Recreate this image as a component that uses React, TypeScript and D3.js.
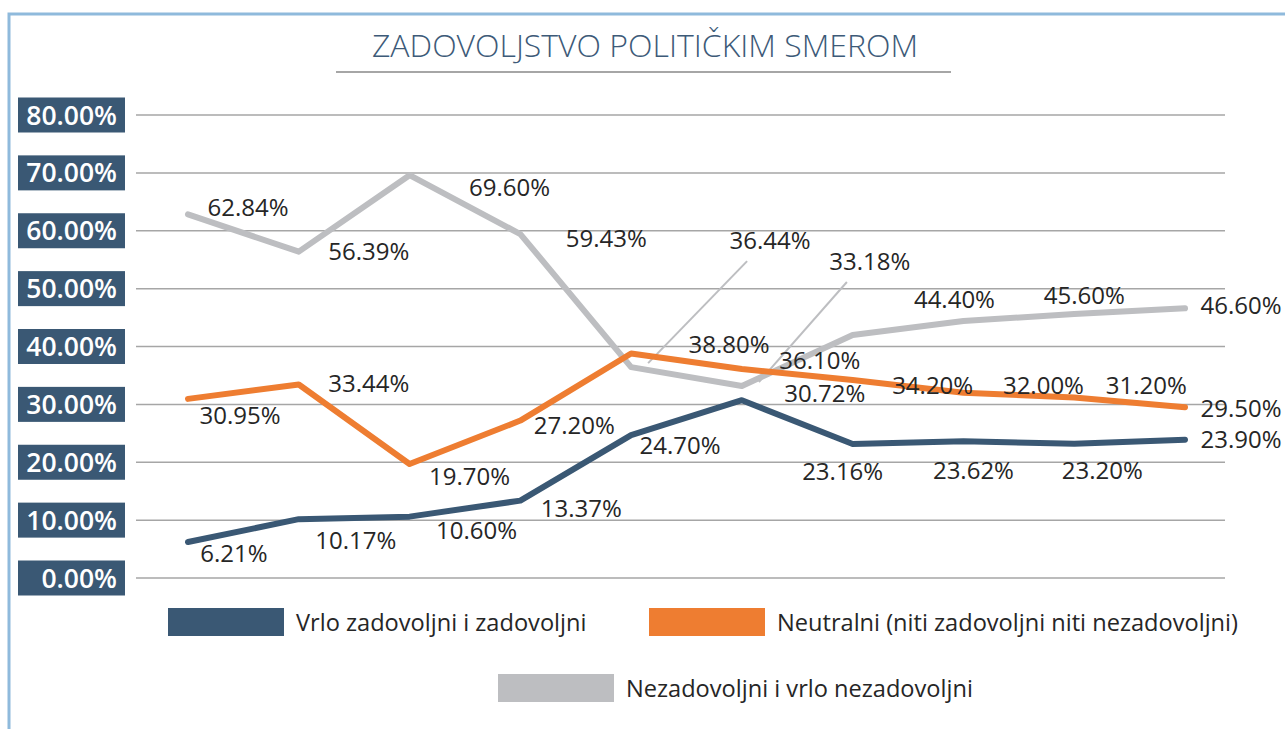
import { useEffect, useRef } from "react";
import * as d3 from "d3";

const waves = ["W1", "W2", "W3", "W4", "W5", "W6", "W7", "W8", "W9", "W10"];
const yTicks = [0, 10, 20, 30, 40, 50, 60, 70, 80];

const satisfied = [6.21, 10.17, 10.6, 13.37, 24.7, 30.72, 23.16, 23.62, 23.2, 23.9];
const neutral = [30.95, 33.44, 19.7, 27.2, 38.8, 36.1, 34.2, 32.0, 31.2, 29.5];
const dissatisfied = [62.84, 56.39, 69.6, 59.43, 36.44, 33.18, 42.0, 44.4, 45.6, 46.6];
// the 7th point of this series carries no label in the original
const dissatisfiedShown = [true, true, true, true, true, true, false, true, true, true];

const seriesNames = [
  "Vrlo zadovoljni i zadovoljni",
  "Neutralni (niti zadovoljni niti nezadovoljni)",
  "Nezadovoljni i vrlo nezadovoljni",
];

// label offsets from their point (layout only)
const satisfiedOff = [[46, 11], [57, 21], [67, 14], [61, 8], [49, 10], [83, -7], [-10, 27], [10, 29], [28, 27], [56, 0]];
const neutralOff = [[52, 16], [70, -1], [60, 12], [54, 5], [98, -9], [78, -9], [80, 5], [80, -7], [72, -12], [56, 1]];
const dissatisfiedOff = [[60, -7], [70, 0], [100, 12], [86, 4], [139, -127], [128, -125], [0, 0], [-9, -22], [10, -19], [56, -3]];

const W = 1285;
const H = 729;

export default function App() {
  const svgRef = useRef<SVGSVGElement>(null);

  useEffect(() => {
    if (!svgRef.current) return;
    const svg = d3.select(svgRef.current);
    svg.selectAll("*").remove();

    const font = "'Open Sans', 'DejaVu Sans', sans-serif";
    const x = d3.scalePoint<string>().domain(waves).range([188, 1185]);
    const y = d3.scaleLinear().domain([0, 80]).range([578, 115]);
    const gridX0 = 136;
    const gridX1 = 1225;

    // frame
    svg.append("path")
      .attr("d", `M9,${H} L9,14 L${W},14`)
      .attr("fill", "none")
      .attr("stroke", "#8fbadc")
      .attr("stroke-width", 3);

    // title
    svg.append("text")
      .attr("x", 645)
      .attr("y", 57)
      .attr("text-anchor", "middle")
      .attr("font-family", font)
      .attr("font-weight", 300)
      .attr("font-size", 32)
      .attr("fill", "#3d5a78")
      .text("ZADOVOLJSTVO POLITIČKIM SMEROM");
    svg.append("line")
      .attr("x1", 336).attr("x2", 951)
      .attr("y1", 72).attr("y2", 72)
      .attr("stroke", "#a6a6a6")
      .attr("stroke-width", 2);

    // grid
    svg.append("g")
      .selectAll("line")
      .data(yTicks)
      .join("line")
      .attr("x1", gridX0)
      .attr("x2", gridX1)
      .attr("y1", d => y(d))
      .attr("y2", d => y(d))
      .attr("stroke", "#a6a6a6")
      .attr("stroke-width", 1.5);

    // y axis boxes
    const yt = svg.append("g")
      .selectAll("g")
      .data(yTicks)
      .join("g")
      .attr("transform", d => `translate(0,${y(d)})`);
    yt.append("rect")
      .attr("x", 18).attr("y", -17.5)
      .attr("width", 107).attr("height", 35)
      .attr("fill", "#3a5874");
    yt.append("text")
      .attr("x", 117)
      .attr("y", 0)
      .attr("dy", "0.36em")
      .attr("text-anchor", "end")
      .attr("font-family", font)
      .attr("font-weight", 600)
      .attr("font-size", 26.5)
      .attr("fill", "#ffffff")
      .text(d => `${d.toFixed(2)}%`);

    const series = [
      { values: dissatisfied, color: "#bdbec1", offs: dissatisfiedOff, shown: dissatisfiedShown },
      { values: neutral, color: "#ee7d31", offs: neutralOff, shown: waves.map(() => true) },
      { values: satisfied, color: "#3a5874", offs: satisfiedOff, shown: waves.map(() => true) },
    ];

    const line = d3.line<number>()
      .x((_, i) => x(waves[i]) as number)
      .y(d => y(d));

    // leader lines for the two crowded gray labels
    const leaders = [4, 5];
    svg.append("g")
      .selectAll("line")
      .data(leaders)
      .join("line")
      .attr("x1", i => (x(waves[i]) as number) + 17)
      .attr("y1", i => y(dissatisfied[i]) - 4)
      .attr("x2", i => (x(waves[i]) as number) + dissatisfiedOff[i][0] - 23)
      .attr("y2", i => y(dissatisfied[i]) + dissatisfiedOff[i][1] + 21)
      .attr("stroke", "#bdbec1")
      .attr("stroke-width", 2);

    series.forEach(s => {
      svg.append("path")
        .datum(s.values)
        .attr("d", line)
        .attr("fill", "none")
        .attr("stroke", s.color)
        .attr("stroke-width", 6)
        .attr("stroke-linejoin", "round")
        .attr("stroke-linecap", "round");
    });

    series.forEach(s => {
      svg.append("g")
        .selectAll("text")
        .data(s.values.map((v, i) => ({ v, i })).filter(d => s.shown[d.i]))
        .join("text")
        .attr("x", d => (x(waves[d.i]) as number) + s.offs[d.i][0])
        .attr("y", d => y(d.v) + s.offs[d.i][1])
        .attr("dy", "0.36em")
        .attr("text-anchor", "middle")
        .attr("font-family", font)
        .attr("font-size", 24)
        .attr("fill", "#262626")
        .text(d => `${d.v.toFixed(2)}%`);
    });

    // legend
    const legendPos = [
      { sx: 168, sy: 608 },
      { sx: 649, sy: 608 },
      { sx: 498, sy: 674 },
    ];
    const legendColors = ["#3a5874", "#ee7d31", "#bdbec1"];
    const lg = svg.append("g")
      .selectAll("g")
      .data(seriesNames)
      .join("g")
      .attr("transform", (_, i) => `translate(${legendPos[i].sx},${legendPos[i].sy})`);
    lg.append("rect")
      .attr("width", 116)
      .attr("height", 28)
      .attr("fill", (_, i) => legendColors[i]);
    lg.append("text")
      .attr("x", 128)
      .attr("y", 14)
      .attr("dy", "0.36em")
      .attr("font-family", font)
      .attr("font-size", 23.6)
      .attr("fill", "#262626")
      .text(d => d);
  }, []);

  return (
    <div style={{ position: "absolute", left: 0, top: 0, width: W, height: H, background: "#fff" }}>
      <svg ref={svgRef} width={W} height={H} />
    </div>
  );
}
